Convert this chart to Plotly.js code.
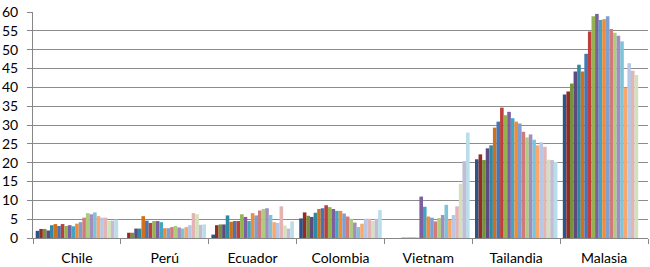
<!DOCTYPE html>
<html>
<head>
<meta charset="utf-8">
<script src="https://cdn.plot.ly/plotly-3.0.1.min.js"></script>
<style>html,body{margin:0;padding:0;background:#fff;}#chart{width:650px;height:267px;}</style>
</head>
<body>
<div id="chart"></div>
<script>
const categories = ["Chile", "Perú", "Ecuador", "Colombia", "Vietnam", "Tailandia", "Malasia"];
const seriesNames = ["1990","1991","1992","1993","1994","1995","1996","1997","1998","1999","2000","2001","2002","2003","2004","2005","2006","2007","2008","2009","2010","2011","2012"];

// values for each country, one per series (in series order)
const chile     = [1.9, 2.4, 2.4, 2.0, 3.4, 3.7, 3.2, 3.7, 3.2, 3.4, 3.1, 3.8, 4.2, 5.4, 6.6, 6.3, 6.8, 5.8, 5.4, 5.4, 4.6, 4.6, 4.9];
const peru      = [null, 1.4, 1.4, 2.5, 2.5, 5.8, 4.6, 4.0, 4.5, 4.5, 4.2, 2.6, 2.6, 2.9, 3.2, 2.8, 2.5, 2.9, 3.4, 6.6, 6.3, 3.5, 3.6];
const ecuador   = [0.9, 3.4, 3.6, 3.6, 6.0, 4.3, 4.5, 4.5, 6.3, 5.6, 4.5, 6.6, 6.0, 7.3, 7.7, 7.9, 6.1, 4.2, 4.0, 8.4, 3.3, 2.5, 4.4];
const colombia  = [5.2, 6.8, 5.9, 5.6, 6.7, 7.7, 7.9, 8.7, 8.2, 7.7, 7.2, 7.2, 6.5, 5.7, 5.1, 4.1, 2.9, 3.8, 5.1, 5.1, 4.5, 5.1, 7.4];
const vietnam   = [null, null, null, null, 0.1, 0.1, 0.1, 0.1, 0.1, 11.0, 8.3, 5.7, 5.4, 4.4, 5.3, 6.1, 8.8, 4.8, 6.1, 8.4, 14.4, 20.4, 28.0];
const tailandia = [20.9, 22.2, 20.7, 23.8, 24.6, 29.3, 30.9, 34.6, 32.6, 33.5, 31.8, 30.9, 30.4, 28.2, 26.7, 27.5, 26.1, 24.6, 25.4, 24.2, 20.8, 20.7, 20.2];
const malasia   = [38.1, 38.9, 41.0, 44.2, 46.0, 44.2, 48.9, 54.8, 58.9, 59.5, 57.9, 58.1, 58.9, 55.5, 54.5, 53.7, 52.2, 39.9, 46.4, 44.4, 43.3, null, null];

const yTickVals = [0, 5, 10, 15, 20, 25, 30, 35, 40, 45, 50, 55, 60];

const countryData = [chile, peru, ecuador, colombia, vietnam, tailandia, malasia];

const colors = [
  "#2A558A", "#952B28", "#76923A", "#5E4A7E", "#2D8AA3", "#D16F1A",
  "#4376B6", "#BC3F3B", "#94B350", "#7B5FA0", "#40A6C1", "#F28B34",
  "#7E9FD1", "#D07B79", "#AFCB7F", "#A18DC0", "#7EC3D7", "#FAA76B",
  "#B7C7E5", "#E3B4B3", "#D2E1BB", "#C6BBD7", "#B8DEE9"
];

const traces = seriesNames.map((name, j) => ({
  type: "bar",
  name: name,
  x: categories,
  y: countryData.map(arr => arr[j]),
  marker: { color: colors[j], line: { width: 0 } },
  hoverinfo: "skip"
}));

const layout = {
  width: 650,
  height: 267,
  margin: { l: 33, r: 2, t: 12, b: 29 },
  paper_bgcolor: "#ffffff",
  plot_bgcolor: "#ffffff",
  showlegend: false,
  barmode: "group",
  bargap: 0.061,
  bargroupgap: 0,
  font: { family: "Lato, 'Open Sans', sans-serif", size: 14, color: "#000000" },
  xaxis: {
    type: "category",
    range: [-0.5, 6.5],
    showline: true,
    linecolor: "#868686",
    linewidth: 1,
    ticks: "outside",
    tickson: "boundaries",
    ticklen: 5,
    tickcolor: "#868686",
    showgrid: false,
    tickfont: { size: 14 },
    ticklabelstandoff: 7,
    fixedrange: true
  },
  yaxis: {
    range: [0, 60],
    tickvals: yTickVals,
    ticktext: yTickVals.map(String),
    showline: true,
    linecolor: "#868686",
    linewidth: 1,
    ticks: "outside",
    ticklen: 5,
    tickcolor: "#868686",
    showgrid: true,
    gridcolor: "#8C8C8C",
    gridwidth: 1,
    zeroline: false,
    tickfont: { size: 14 },
    ticklabelstandoff: 6,
    fixedrange: true
  }
};

Plotly.newPlot("chart", traces, layout, { displayModeBar: false, staticPlot: true });
</script>
</body>
</html>
